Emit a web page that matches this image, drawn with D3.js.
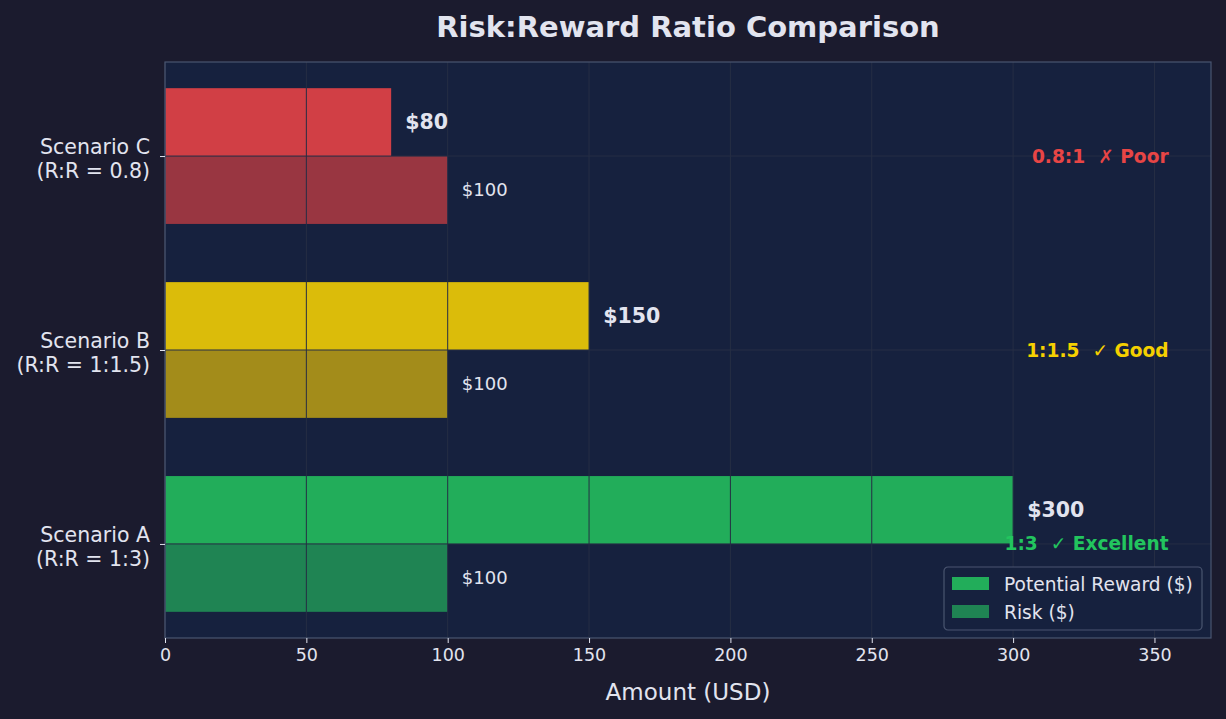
<!DOCTYPE html>
<html><head><meta charset="utf-8">
<script src="https://cdn.jsdelivr.net/npm/d3@7"></script>
<style>body{margin:0;background:#1b1b2e;}svg{display:block;font-family:"DejaVu Sans",sans-serif;}text{white-space:pre;}</style>
</head><body><svg id="c" width="1226" height="719"></svg>
<script>
const categories = ["Scenario A\n(R:R = 1:3)", "Scenario B\n(R:R = 1:1.5)", "Scenario C\n(R:R = 0.8)"];
const rewardValues = [300, 150, 80];
const riskValues = [100, 100, 100];
const ratioLabels = ["1:3  \u2713 Excellent", "1:1.5  \u2713 Good", "0.8:1  \u2717 Poor"];
const rewardColors = ["#22ad5a", "#dbbc0a", "#d13f45"];
const riskColors = ["#1f8453", "#a38c1a", "#993641"];
const ratioColors = ["#22c55e", "#f5d000", "#e84545"];
const xTicks = [0, 50, 100, 150, 200, 250, 300, 350];

const svg = d3.select("#c");
const L = 165, R = 1211, T = 62, B = 638;
const x = d3.scaleLinear().domain([0, 370]).range([L, R]);
const y = d3.scaleLinear().domain([-0.485, 2.485]).range([B, T]);
const bh = 0.35;
const txt = "#e2e4ef";

svg.append("rect").attr("x", L).attr("y", T).attr("width", R - L).attr("height", B - T).attr("fill", "#16213e");

svg.append("text").attr("x", 688).attr("y", 37).attr("text-anchor", "middle").attr("fill", txt)
  .attr("font-size", 29).attr("font-weight", "bold").text("Risk:Reward Ratio Comparison");

const g = svg.append("g");
categories.forEach((c, i) => {
  g.append("rect").attr("x", x(0)).attr("y", y(i + bh)).attr("width", x(rewardValues[i]) - x(0))
    .attr("height", y(i) - y(i + bh)).attr("fill", rewardColors[i]);
  g.append("rect").attr("x", x(0)).attr("y", y(i)).attr("width", x(riskValues[i]) - x(0))
    .attr("height", y(i - bh) - y(i)).attr("fill", riskColors[i]);
});

// grid on top
const grid = svg.append("g").attr("stroke", "#262e44").attr("stroke-width", 1);
xTicks.forEach(t => grid.append("line").attr("x1", x(t)).attr("x2", x(t)).attr("y1", T).attr("y2", B));
categories.forEach((c, i) => grid.append("line").attr("x1", L).attr("x2", R).attr("y1", y(i)).attr("y2", y(i)));

// value labels
categories.forEach((c, i) => {
  svg.append("text").attr("x", x(rewardValues[i] + 5)).attr("y", y(i + bh / 2)).attr("dy", "0.35em")
    .attr("fill", txt).attr("font-size", 20.5).attr("font-weight", "bold").text("$" + rewardValues[i]);
  svg.append("text").attr("x", x(riskValues[i] + 5)).attr("y", y(i - bh / 2)).attr("dy", "0.35em")
    .attr("fill", txt).attr("font-size", 18).text("$" + riskValues[i]);
  svg.append("text").attr("x", x(355)).attr("y", y(i)).attr("dy", "0.35em").attr("text-anchor", "end")
    .attr("fill", ratioColors[i]).attr("font-size", 18.6).attr("font-weight", "bold").text(ratioLabels[i]);
});

// spines
svg.append("rect").attr("x", L).attr("y", T).attr("width", R - L).attr("height", B - T)
  .attr("fill", "none").attr("stroke", "#4a5570").attr("stroke-width", 1.2);

// x axis
const xa = svg.append("g").attr("transform", `translate(0,${B})`)
  .call(d3.axisBottom(x).tickValues(xTicks).tickSize(5).tickPadding(6).tickFormat(d3.format("d")));
xa.select(".domain").remove();
xa.selectAll("line").attr("stroke", txt);
xa.selectAll("text").attr("fill", txt).attr("font-size", 17.5).attr("font-family", "DejaVu Sans");

// y axis
const ya = svg.append("g").attr("transform", `translate(${L},0)`)
  .call(d3.axisLeft(y).tickValues([0, 1, 2]).tickSize(5).tickFormat(""));
ya.select(".domain").remove();
ya.selectAll("line").attr("stroke", txt);
categories.forEach((c, i) => {
  const lines = c.split("\n");
  const t = svg.append("text").attr("text-anchor", "end").attr("fill", txt).attr("font-size", 20.5);
  lines.forEach((ln, k) => t.append("tspan").attr("x", 150).attr("y", y(i) + (k === 0 ? -2 : 22)).text(ln));
});

svg.append("text").attr("x", (L + R) / 2).attr("y", 700).attr("text-anchor", "middle").attr("fill", txt)
  .attr("font-size", 23).text("Amount (USD)");

// legend
const lg = svg.append("g").attr("transform", "translate(944,567)");
lg.append("rect").attr("width", 258).attr("height", 63).attr("rx", 4).attr("fill", "#16213e")
  .attr("stroke", "#4a5570").attr("stroke-width", 1.2);
[["Potential Reward ($)", rewardColors[0]], ["Risk ($)", riskColors[0]]].forEach((d, k) => {
  lg.append("rect").attr("x", 8).attr("y", 10 + k * 28).attr("width", 37).attr("height", 13).attr("fill", d[1]);
  lg.append("text").attr("x", 60).attr("y", 17 + k * 28).attr("dy", "0.35em").attr("fill", txt)
    .attr("font-size", 18.6).text(d[0]);
});
</script></body></html>
